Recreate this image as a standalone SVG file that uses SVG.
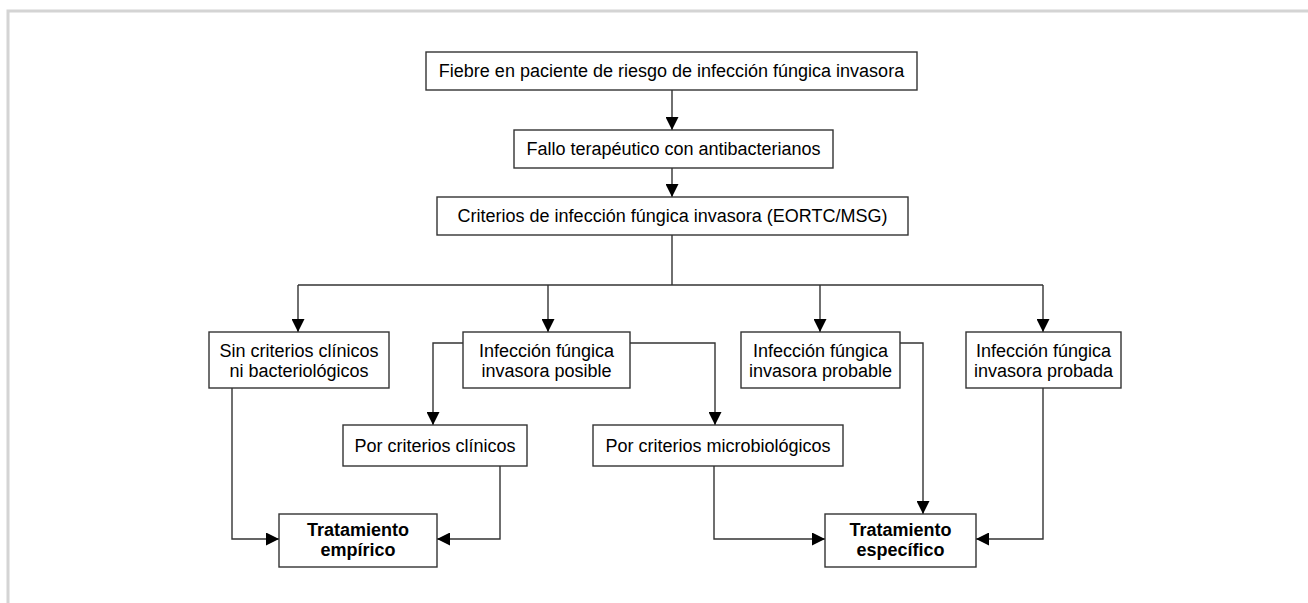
<svg xmlns="http://www.w3.org/2000/svg" width="1308" height="603" viewBox="0 0 1308 603">
<style>
.box{fill:#fff;stroke:#333;stroke-width:1.4}
.t{font-family:"Liberation Sans",Arial,sans-serif;font-size:18px;fill:#000;text-anchor:middle}
.b{font-weight:bold}
.c{fill:none;stroke:#333;stroke-width:1.4}
</style>
<defs>
<marker id="ah" markerUnits="userSpaceOnUse" markerWidth="14" markerHeight="13" refX="13" refY="6.5" orient="auto">
<path d="M0,0 L13,6.5 L0,13 z" fill="#000"/>
</marker>
</defs>
<rect width="1308" height="603" fill="#fff"/>
<polyline points="8,603 8,11 1308,11" fill="none" stroke="#d4d4d4" stroke-width="3"/>
<g id="connectors">
<line class="c" x1="672" y1="90" x2="672" y2="130" marker-end="url(#ah)"/>
<line class="c" x1="672" y1="168" x2="672" y2="197" marker-end="url(#ah)"/>
<polyline class="c" points="672,235 672,285"/>
<polyline class="c" points="298,285 1043,285"/>
<line class="c" x1="298" y1="285" x2="298" y2="332" marker-end="url(#ah)"/>
<line class="c" x1="548" y1="285" x2="548" y2="332" marker-end="url(#ah)"/>
<line class="c" x1="820" y1="285" x2="820" y2="332" marker-end="url(#ah)"/>
<line class="c" x1="1043" y1="285" x2="1043" y2="332" marker-end="url(#ah)"/>
<polyline class="c" points="463,343 433,343 433,425" marker-end="url(#ah)"/>
<polyline class="c" points="630,343 715,343 715,425" marker-end="url(#ah)"/>
<polyline class="c" points="900,343 923,343 923,514" marker-end="url(#ah)"/>
<polyline class="c" points="232,388 232,539 279,539" marker-end="url(#ah)"/>
<polyline class="c" points="500,466 500,539 437,539" marker-end="url(#ah)"/>
<polyline class="c" points="714,466 714,539 825,539" marker-end="url(#ah)"/>
<polyline class="c" points="1043,388 1043,539 976,539" marker-end="url(#ah)"/>
</g>
<g id="n1"><rect class="box" x="426" y="52" width="491" height="38"/><text class="t" x="671.5" y="77.3">Fiebre en paciente de riesgo de infección fúngica invasora</text></g>
<g id="n2"><rect class="box" x="514" y="130" width="319" height="38"/><text class="t" x="673.5" y="155.3">Fallo terapéutico con antibacterianos</text></g>
<g id="n3"><rect class="box" x="437" y="197" width="471" height="38"/><text class="t" x="672.5" y="222.3">Criterios de infección fúngica invasora (EORTC/MSG)</text></g>
<g id="n4"><rect class="box" x="209" y="332" width="180" height="56"/><text class="t" x="299" y="357">Sin criterios clínicos</text><text class="t" x="299" y="377">ni bacteriológicos</text></g>
<g id="n5"><rect class="box" x="463" y="332" width="167" height="56"/><text class="t" x="546.5" y="357">Infección fúngica</text><text class="t" x="546.5" y="377">invasora posible</text></g>
<g id="n6"><rect class="box" x="741" y="332" width="159" height="56"/><text class="t" x="820.5" y="357">Infección fúngica</text><text class="t" x="820.5" y="377">invasora probable</text></g>
<g id="n7"><rect class="box" x="966" y="332" width="155" height="56"/><text class="t" x="1043.5" y="357">Infección fúngica</text><text class="t" x="1043.5" y="377">invasora probada</text></g>
<g id="n8"><rect class="box" x="343" y="425" width="184" height="41"/><text class="t" x="435" y="451.8">Por criterios clínicos</text></g>
<g id="n9"><rect class="box" x="593" y="425" width="250" height="41"/><text class="t" x="718" y="451.8">Por criterios microbiológicos</text></g>
<g id="n10"><rect class="box" x="279" y="514" width="158" height="53"/><text class="t b" x="358" y="536">Tratamiento</text><text class="t b" x="358" y="556">empírico</text></g>
<g id="n11"><rect class="box" x="825" y="514" width="151" height="53"/><text class="t b" x="900.5" y="536">Tratamiento</text><text class="t b" x="900.5" y="556">específico</text></g>
</svg>
